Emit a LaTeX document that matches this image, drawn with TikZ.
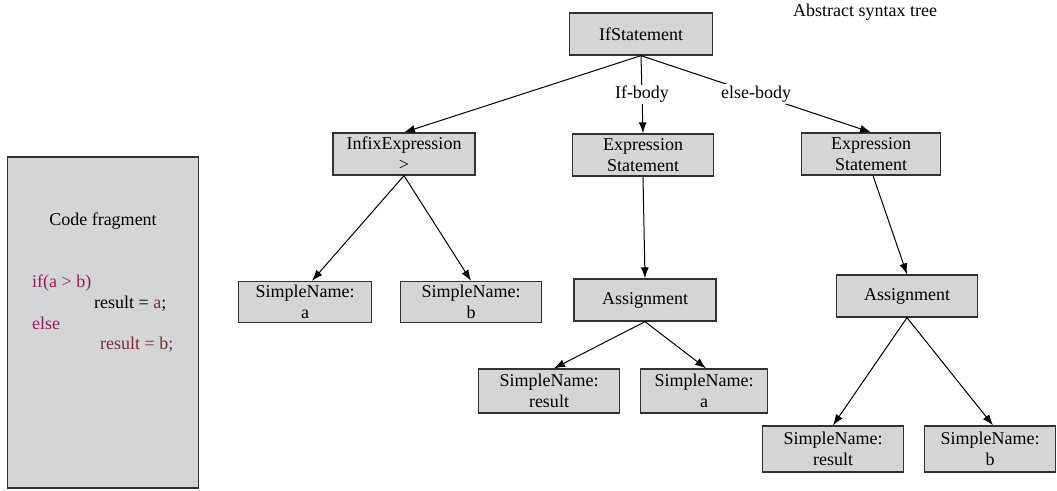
\documentclass[tikz,border=0pt]{standalone}
\usepackage{fontspec}
\setmainfont{Liberation Serif}
\usetikzlibrary{arrows.meta}
\definecolor{boxfill}{RGB}{212,213,215}
\definecolor{boxline}{RGB}{50,50,50}
\definecolor{kw}{RGB}{150,28,100}
\definecolor{val}{RGB}{118,48,52}
\begin{document}
\begin{tikzpicture}[x=1pt,y=-1pt,
  astnode/.style={draw=boxline, fill=boxfill, line width=1.3pt, inner sep=0pt,
    align=center, font=\fontsize{18}{21}\selectfont},
  edge/.style={line width=1pt, -{Latex[length=11pt,width=8pt]}},
  lbl/.style={fill=white, inner sep=1.5pt, font=\fontsize{18}{21}\selectfont},
  codetext/.style={inner sep=0pt, font=\fontsize{18}{21}\selectfont}]
\useasboundingbox (0,0) rectangle (1057,490);

% title
\node[codetext, anchor=base] (title) at (865,16) {Abstract syntax tree};

% code fragment panel
\node[draw=boxline, fill=boxfill, line width=1.3pt, minimum width=191pt,
  minimum height=331pt, inner sep=0pt] (code) at (103,322.5) {};
\node[codetext, anchor=base] (codetitle) at (103,225) {Code fragment};
\node[codetext, anchor=base west, text=kw] (l1) at (32,287) {if(a > b)};
\node[codetext, anchor=base west] (l2) at (94,308) {result = \textcolor{val}{a};};
\node[codetext, anchor=base west, text=kw] (l3) at (32,329) {else};
\node[codetext, anchor=base west, text=val] (l4) at (100,349) {result = b;};

% syntax tree nodes
\node[astnode, minimum width=143pt, minimum height=42pt] (ifs) at (641,34) {IfStatement};
\node[astnode, minimum width=142pt, minimum height=42pt] (infix) at (404,154) {InfixExpression\\>};
\node[astnode, minimum width=141pt, minimum height=42pt] (es1) at (643,155) {Expression\\Statement};
\node[astnode, minimum width=139pt, minimum height=42pt] (es2) at (871,154) {Expression\\Statement};
\node[astnode, minimum width=133pt, minimum height=41pt] (sa) at (305,302) {SimpleName:\\a};
\node[astnode, minimum width=141pt, minimum height=41pt] (sb) at (471,302) {SimpleName:\\b};
\node[astnode, minimum width=142pt, minimum height=42pt] (as1) at (645,300) {Assignment};
\node[astnode, minimum width=141pt, minimum height=44pt] (sr1) at (549,391) {SimpleName:\\result};
\node[astnode, minimum width=127pt, minimum height=44pt] (sa2) at (704,391) {SimpleName:\\a};
\node[astnode, minimum width=141pt, minimum height=42pt] (as2) at (907,296) {Assignment};
\node[astnode, minimum width=141pt, minimum height=46pt] (sr2) at (833,449) {SimpleName:\\result};
\node[astnode, minimum width=131pt, minimum height=46pt] (sb2) at (990,449) {SimpleName:\\b};

% connectors
\draw[edge] (ifs.south) -- (infix.north);
\draw[edge] (ifs.south) -- node[lbl] (ifbody) {If-body} (es1.north);
\draw[edge] (ifs.south) -- node[lbl] (elsebody) {else-body} (es2.north);
\draw[edge] (infix.south) -- ([xshift=7pt]sa.north);
\draw[edge] (infix.south) -- (sb.north);
\draw[edge] (es1.south) -- (as1.north);
\draw[edge] ([xshift=2pt]es2.south) -- (as2.north);
\draw[edge] (as1.south) -- ([xshift=5pt]sr1.north);
\draw[edge] (as1.south) -- ([xshift=2pt]sa2.north);
\draw[edge] (as2.south) -- (sr2.north);
\draw[edge] (as2.south) -- ([xshift=3pt]sb2.north);
\end{tikzpicture}
\end{document}
